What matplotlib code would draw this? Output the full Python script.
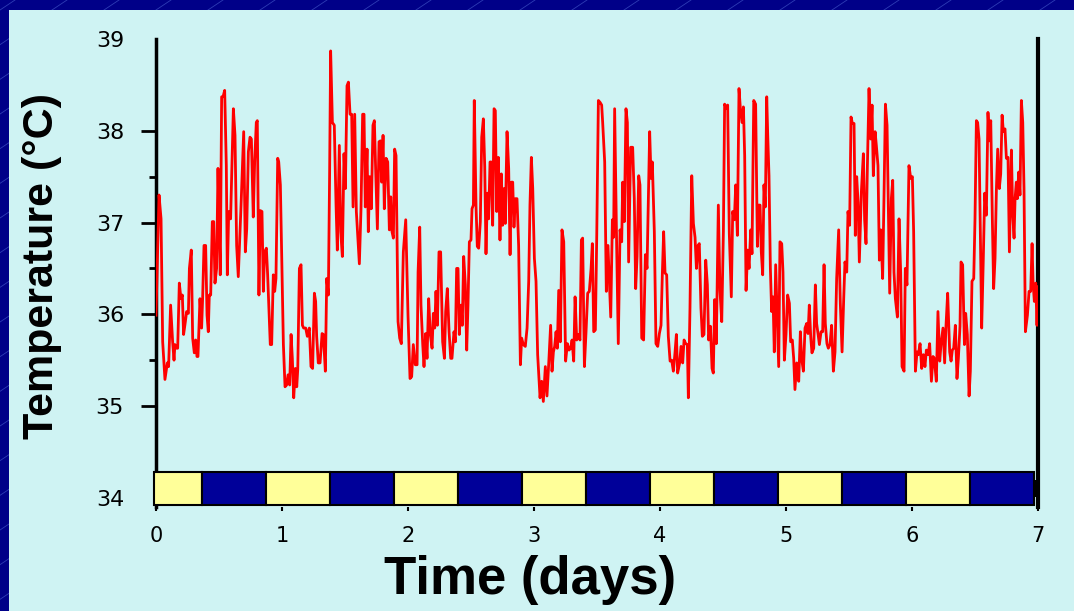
"""一週間の深部体温ログを描く

明期/暗期の帯を x 軸の下に並べ、体温の推移を赤線で表示する。
出力は out.png (1074x611)。
"""
import numpy as np
import matplotlib
matplotlib.use("Agg")
import matplotlib.pyplot as plt
from matplotlib.patches import Rectangle

# 体温ログ: 経過日数と温度 (°C)
days = [
    0.000, 0.024, 0.040, 0.053, 0.071, 0.090, 0.100, 0.116, 0.132, 0.143,
    0.150, 0.164, 0.172, 0.185, 0.198, 0.209, 0.219, 0.233, 0.243, 0.257,
    0.265, 0.280, 0.291, 0.304, 0.315, 0.325, 0.333, 0.349, 0.362, 0.370,
    0.381, 0.394, 0.405, 0.415, 0.423, 0.434, 0.447, 0.458, 0.468, 0.481,
    0.492, 0.500, 0.510, 0.521, 0.532, 0.545, 0.558, 0.566, 0.577, 0.592,
    0.614, 0.627, 0.640, 0.653, 0.675, 0.696, 0.709, 0.720, 0.733, 0.746,
    0.757, 0.772, 0.783, 0.796, 0.804, 0.817, 0.828, 0.841, 0.852, 0.862,
    0.876, 0.886, 0.907, 0.918, 0.931, 0.942, 0.952, 0.966, 0.974, 0.987,
    1.011, 1.024, 1.037, 1.048, 1.061, 1.072, 1.082, 1.093, 1.106, 1.117,
    1.125, 1.138, 1.151, 1.162, 1.172,
    1.188, 1.201, 1.217, 1.230, 1.243, 1.257, 1.267, 1.275, 1.288, 1.302,
    1.318, 1.328, 1.344, 1.355, 1.368, 1.378, 1.386, 1.400, 1.415, 1.429,
    1.439, 1.455, 1.466, 1.479, 1.492, 1.503, 1.516, 1.527, 1.540, 1.553,
    1.564, 1.577, 1.590, 1.614, 1.627, 1.640, 1.651, 1.661, 1.675, 1.685,
    1.696, 1.709, 1.722, 1.733, 1.743, 1.757, 1.770, 1.781, 1.791, 1.802,
    1.812, 1.826, 1.839, 1.852, 1.863, 1.873, 1.884, 1.894, 1.905, 1.921,
    1.934, 1.947, 1.963, 1.982, 2.000, 2.016, 2.029, 2.042, 2.058, 2.072,
    2.080, 2.093, 2.103, 2.117, 2.127, 2.140, 2.151, 2.164, 2.177, 2.191,
    2.201, 2.212, 2.222, 2.233, 2.246, 2.259, 2.275, 2.289, 2.299, 2.312,
    2.326, 2.339, 2.349,
    2.365, 2.376, 2.386, 2.397, 2.407, 2.421, 2.431, 2.442, 2.455, 2.466,
    2.476, 2.487, 2.500, 2.508, 2.519, 2.526, 2.540, 2.550, 2.561, 2.574,
    2.585, 2.598, 2.609, 2.619, 2.630, 2.640, 2.651, 2.661, 2.672, 2.683,
    2.693, 2.704, 2.717, 2.730, 2.741, 2.751, 2.762, 2.772, 2.786, 2.799,
    2.810, 2.820, 2.831, 2.841, 2.852, 2.865, 2.878, 2.892, 2.902, 2.915,
    2.931, 2.945, 2.958, 2.968, 2.979, 2.990, 3.003, 3.016, 3.029, 3.048,
    3.061, 3.074, 3.090, 3.103, 3.117, 3.132, 3.143, 3.154, 3.164, 3.175,
    3.185, 3.196, 3.209, 3.222, 3.236, 3.251, 3.265, 3.278, 3.291, 3.302,
    3.315, 3.326, 3.339, 3.352, 3.365, 3.376, 3.386, 3.400, 3.413, 3.426,
    3.439, 3.453, 3.463, 3.474, 3.487, 3.498, 3.511, 3.524, 3.537,
    3.545, 3.561, 3.574, 3.587, 3.601, 3.609, 3.622, 3.632, 3.640, 3.656,
    3.669, 3.683, 3.696, 3.704, 3.717, 3.730, 3.741, 3.751, 3.767, 3.783,
    3.796, 3.807, 3.818, 3.831, 3.841, 3.855, 3.870, 3.884, 3.897, 3.910,
    3.918, 3.929, 3.939, 3.955, 3.968, 3.982, 3.995, 4.008, 4.019, 4.029,
    4.040, 4.053, 4.066, 4.080, 4.093, 4.106, 4.119, 4.130, 4.140, 4.156,
    4.167, 4.180, 4.191, 4.204, 4.217, 4.225, 4.238, 4.252, 4.265, 4.278,
    4.289, 4.302, 4.312, 4.325, 4.336, 4.349, 4.363, 4.376, 4.386, 4.400,
    4.413, 4.423, 4.434, 4.447, 4.463, 4.476, 4.490, 4.503, 4.513, 4.527,
    4.537, 4.550, 4.566, 4.577, 4.590, 4.601, 4.614, 4.627, 4.638, 4.651,
    4.662, 4.672, 4.683, 4.696, 4.707, 4.720, 4.730, 4.744,
    4.759, 4.773, 4.783, 4.794, 4.804, 4.815, 4.825, 4.836, 4.847, 4.855,
    4.865, 4.876, 4.886, 4.897, 4.907, 4.918, 4.931, 4.942, 4.952, 4.966,
    4.976, 4.987, 5.000, 5.013, 5.027, 5.037, 5.050, 5.061, 5.071, 5.085,
    5.101, 5.114, 5.124, 5.138, 5.151, 5.164, 5.175, 5.185, 5.196, 5.206,
    5.220, 5.233, 5.243, 5.254, 5.265, 5.278, 5.291, 5.302, 5.312, 5.325,
    5.336, 5.349, 5.362, 5.376, 5.389, 5.402, 5.418, 5.431, 5.445, 5.458,
    5.468, 5.482, 5.492, 5.505, 5.516, 5.527, 5.540, 5.550, 5.561, 5.572,
    5.582, 5.598, 5.614, 5.624, 5.635, 5.646, 5.659, 5.672, 5.683, 5.693,
    5.707, 5.717, 5.730, 5.741, 5.752, 5.767, 5.778, 5.789, 5.802, 5.813,
    5.823, 5.836, 5.847, 5.857, 5.868,
    5.884, 5.897, 5.910, 5.921, 5.937, 5.947, 5.960, 5.976, 5.990, 6.003,
    6.013, 6.027, 6.040, 6.050, 6.064, 6.077, 6.090, 6.103, 6.114, 6.127,
    6.140, 6.154, 6.167, 6.177, 6.193, 6.206, 6.220, 6.230, 6.246, 6.259,
    6.270, 6.283, 6.299, 6.310, 6.320, 6.331, 6.344, 6.357, 6.368, 6.381,
    6.389, 6.402, 6.416, 6.426, 6.439, 6.453, 6.463, 6.476, 6.490, 6.500,
    6.511, 6.521, 6.532, 6.545, 6.553, 6.566, 6.577, 6.590, 6.603, 6.614,
    6.625, 6.638, 6.648, 6.659, 6.670, 6.680, 6.693, 6.704, 6.715, 6.725,
    6.738, 6.749, 6.762, 6.773, 6.789, 6.799, 6.810, 6.818, 6.828, 6.836,
    6.847, 6.857, 6.868, 6.879, 6.889, 6.900, 6.916, 6.929, 6.942, 6.953,
    6.961, 6.971, 6.982, 6.992, 7.000,
]
temps = [
    35.99, 37.30, 37.04, 35.70, 35.29, 35.47, 35.43, 36.10, 35.70, 35.50,
    35.67, 35.63, 35.63, 36.34, 36.17, 36.21, 35.78, 35.92, 36.03, 36.01,
    36.50, 36.70, 35.74, 35.58, 35.72, 35.54, 35.54, 36.17, 35.85, 36.17,
    36.75, 36.75, 35.99, 35.81, 36.21, 36.21, 37.01, 37.01, 36.34, 36.50,
    37.59, 37.04, 36.43, 38.37, 38.37, 38.44, 37.62, 36.43, 37.12, 37.04,
    38.24, 37.95, 36.75, 36.41, 37.19, 37.99, 36.68, 36.93, 37.77, 37.93,
    37.91, 37.06, 37.66, 38.09, 38.11, 36.21, 37.13, 37.12, 36.25, 36.68,
    36.72, 36.43, 35.67, 35.67, 36.43, 36.25, 36.39, 37.70, 37.66, 37.41,
    35.67, 35.21, 35.23, 35.34, 35.23, 35.78, 35.52, 35.09, 35.41, 35.21,
    35.40, 36.50, 36.54, 35.88, 35.85,
    35.85, 35.76, 35.85, 35.43, 35.41, 36.23, 36.14, 35.76, 35.47, 35.47,
    35.79, 35.78, 35.38, 36.39, 36.21, 37.55, 38.87, 38.09, 38.06, 37.19,
    36.70, 37.84, 36.90, 36.63, 37.75, 37.37, 38.49, 38.53, 38.18, 38.18,
    37.17, 38.18, 37.12, 36.55, 37.15, 38.18, 38.18, 37.17, 37.80, 36.90,
    37.50, 37.15, 38.06, 38.11, 37.59, 36.93, 37.88, 37.89, 37.44, 37.95,
    37.15, 37.70, 37.66, 36.92, 37.28, 36.90, 36.83, 37.80, 37.73, 35.92,
    35.74, 35.68, 36.68, 37.03, 35.99, 35.30, 35.32, 35.67, 35.45, 35.45,
    36.46, 36.95, 36.10, 35.67, 35.43, 35.79, 35.52, 36.17, 35.78, 35.63,
    36.01, 35.85, 36.25, 35.88, 36.68, 36.68, 35.70, 35.52, 36.03, 36.28,
    35.81, 35.52, 35.52,
    35.81, 35.70, 36.50, 36.50, 35.78, 36.10, 35.88, 36.63, 36.32, 35.61,
    36.10, 36.79, 36.81, 37.15, 37.19, 38.33, 37.17, 36.74, 36.72, 37.01,
    37.93, 38.13, 37.61, 36.66, 37.32, 37.04, 37.66, 37.66, 36.97, 38.24,
    38.22, 37.12, 37.71, 36.81, 37.53, 36.97, 37.37, 36.99, 37.99, 37.59,
    36.65, 37.44, 37.44, 36.95, 37.26, 37.26, 36.75, 35.45, 35.74, 35.67,
    35.65, 35.85, 36.36, 37.19, 37.71, 37.37, 36.61, 36.36, 35.56, 35.09,
    35.27, 35.05, 35.43, 35.11, 35.47, 35.88, 35.38, 35.59, 35.65, 35.81,
    35.63, 36.26, 35.70, 36.92, 36.79, 35.49, 35.68, 35.61, 35.63, 35.72,
    35.49, 36.19, 35.72, 35.78, 35.72, 36.81, 36.83, 35.43, 35.81, 36.23,
    36.25, 36.50, 36.77, 35.81, 35.83, 36.86, 38.33, 38.31, 38.28,
    38.09, 37.66, 36.25, 36.75, 36.25, 35.97, 37.03, 36.84, 38.24, 36.75,
    35.68, 36.92, 36.79, 37.44, 37.01, 38.24, 38.09, 36.57, 37.82, 37.82,
    37.26, 36.28, 36.63, 37.51, 37.41, 35.74, 35.72, 36.65, 36.50, 37.41,
    37.99, 37.48, 37.66, 36.90, 35.68, 35.65, 35.79, 35.88, 36.46, 36.90,
    36.45, 36.43, 35.76, 35.49, 35.50, 35.38, 35.58, 35.78, 35.36, 35.47,
    35.65, 35.47, 35.72, 35.68, 35.67, 35.09, 36.07, 37.51, 36.99, 36.84,
    36.50, 36.75, 36.77, 36.07, 35.76, 35.78, 36.59, 36.32, 35.72, 35.87,
    35.41, 35.36, 36.16, 35.68, 37.19, 36.26, 35.92, 36.90, 38.29, 38.24,
    38.28, 36.88, 36.19, 37.12, 37.03, 37.41, 36.86, 38.46, 38.24, 38.09,
    38.26, 37.73, 36.26, 36.70, 36.50, 36.92, 36.66, 38.33,
    38.29, 36.74, 37.19, 37.19, 36.68, 36.43, 37.41, 37.17, 38.37, 37.95,
    37.51, 36.50, 36.03, 36.19, 35.59, 36.54, 35.94, 35.43, 36.79, 36.77,
    36.46, 35.50, 35.78, 36.21, 36.12, 35.70, 35.72, 35.52, 35.18, 35.47,
    35.27, 35.81, 35.52, 35.38, 35.85, 35.90, 35.79, 36.10, 35.76, 35.58,
    35.63, 36.32, 35.90, 35.79, 35.67, 35.81, 35.81, 36.54, 35.90, 35.68,
    35.63, 35.67, 35.88, 35.38, 35.59, 36.39, 36.92, 36.12, 35.59, 36.17,
    36.57, 36.46, 37.12, 36.97, 38.15, 38.08, 38.08, 36.86, 37.50, 37.22,
    36.57, 37.33, 37.75, 37.03, 36.77, 37.62, 38.46, 37.91, 38.28, 37.51,
    37.99, 37.84, 37.62, 36.59, 36.92, 36.39, 37.30, 38.29, 38.06, 37.08,
    36.23, 37.26, 37.46, 36.46, 36.17,
    35.97, 37.04, 36.46, 35.43, 35.38, 36.50, 36.32, 37.62, 37.48, 37.50,
    36.90, 35.38, 35.59, 35.56, 35.68, 35.41, 35.56, 35.43, 35.61, 35.56,
    35.68, 35.27, 35.54, 35.52, 35.27, 36.03, 35.49, 35.67, 35.85, 35.47,
    35.88, 36.23, 35.59, 35.49, 35.61, 35.63, 35.88, 35.30, 35.52, 35.87,
    36.57, 36.54, 35.67, 36.01, 35.78, 35.11, 35.38, 36.36, 36.39, 37.04,
    38.11, 38.09, 37.91, 36.61, 35.85, 36.61, 37.32, 37.08, 38.20, 37.89,
    38.11, 37.01, 36.28, 36.61, 37.37, 37.80, 37.37, 37.53, 38.17, 37.99,
    38.02, 37.70, 37.71, 36.68, 37.79, 37.10, 36.83, 37.26, 37.44, 37.26,
    37.55, 37.30, 38.33, 38.09, 37.37, 35.81, 35.99, 36.25, 36.25, 36.77,
    36.34, 36.14, 36.34, 35.88, 36.30,
]

# 明期/暗期の境界 (日)。最初の区間は明期、以降交互
phase_edges = [-0.016, 0.365, 0.873, 1.381, 1.889, 2.397, 2.905, 3.413,
               3.921, 4.429, 4.937, 5.444, 5.952, 6.460, 6.968]

day_ticks = [0, 1, 2, 3, 4, 5, 6, 7]
temp_ticks = [34, 35, 36, 37, 38, 39]
temp_minor = [35.5, 36.5, 37.5]

NAVY = "#000088"
PANEL = "#cff3f3"
LIGHT = "#ffff99"
DARK = "#000099"

W, H = 1074, 611
fig = plt.figure(figsize=(W / 100, H / 100), dpi=100)
fig.patch.set_facecolor(NAVY)

# 背景 (ピクセル座標): 紺の縁と斜線、水色のパネル
bg = fig.add_axes([0, 0, 1, 1])
bg.set_xlim(0, W)
bg.set_ylim(H, 0)
bg.axis('off')
for c in np.arange(0, W + 60, 52):
    bg.plot([c - 915, c + 15], [620, 0], color="#3a4cc0", lw=0.6, alpha=0.8)
bg.add_patch(Rectangle((9, 10), W - 9, H - 10, facecolor=PANEL,
                       edgecolor='none', zorder=3))

ax = fig.add_axes([156 / W, 1 - 507 / H, 882 / W, 468 / H])
ax.set_facecolor('none')
ax.set_xlim(0, 7)
ax.set_ylim(33.9, 39.0)

ax.plot(days, temps, color="#ff0000", lw=2.0, zorder=3,
        solid_joinstyle='round')

# 明暗の帯
for i in range(len(phase_edges) - 1):
    x0, x1 = phase_edges[i], phase_edges[i + 1]
    ax.add_patch(Rectangle((x0, 33.92), x1 - x0, 0.36,
                           facecolor=LIGHT if i % 2 == 0 else DARK,
                           edgecolor='black', lw=1.5, zorder=4,
                           clip_on=False))
ax.add_patch(Rectangle((phase_edges[-1], 34.01), 7.0 - phase_edges[-1], 0.18,
                       facecolor='black', edgecolor='none', zorder=4,
                       clip_on=False))

for s in ('top', 'bottom'):
    ax.spines[s].set_visible(False)
ax.spines['left'].set_linewidth(2.5)
ax.spines['right'].set_linewidth(3.0)

ax.set_xticks(day_ticks)
ax.set_xticklabels([str(d) for d in day_ticks])
ax.set_yticks(temp_ticks)
ax.set_yticklabels([str(t) for t in temp_ticks])
ax.set_yticks(temp_minor, minor=True)
ax.tick_params(axis='x', length=3, width=1.5, pad=11, labelsize=15,
               colors='black')
ax.tick_params(axis='y', which='major', length=11, width=2, pad=12,
               labelsize=16)
ax.tick_params(axis='y', which='minor', length=5, width=2)
# 34 と 39 は目盛線なし
yt = ax.yaxis.get_major_ticks()
yt[0].tick1line.set_visible(False)
yt[-1].tick1line.set_visible(False)

fig.text(42 / W, 1 - 266 / H, "Temperature (°C)", rotation=90,
         ha='center', va='center', fontsize=31, fontweight='bold',
         family="Liberation Sans")
fig.text(530 / W, 1 - 580 / H, "Time (days)", ha='center', va='center',
         fontsize=38, fontweight='bold', family="Liberation Sans")

fig.savefig("out.png", dpi=100, facecolor=fig.get_facecolor())
